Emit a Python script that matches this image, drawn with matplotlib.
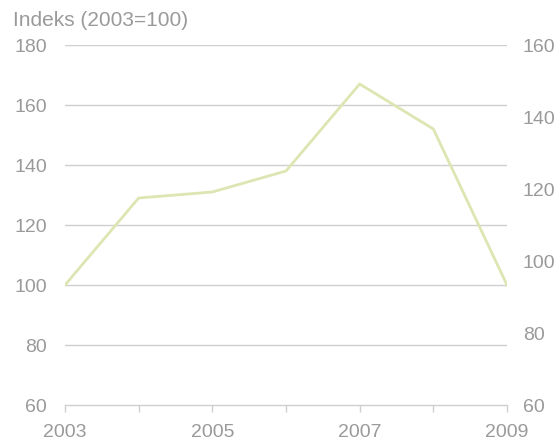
import matplotlib.pyplot as plt

years = [2003, 2004, 2005, 2006, 2007, 2008, 2009]
index_values = [100, 129, 131, 138, 167, 152, 100]
left_ticks = [60, 80, 100, 120, 140, 160, 180]
right_ticks = [60, 80, 100, 120, 140, 160]
year_labels = ['2003', '', '2005', '', '2007', '', '2009']

plt.rcParams['font.family'] = ['Liberation Sans', 'DejaVu Sans']
txt = '#9a9a9a'
grid = '#cfcfcf'
fs = 14

fig = plt.figure(figsize=(5.6, 4.43), dpi=100)
ax = fig.add_axes([65 / 560, 38 / 443, 442 / 560, 360 / 443])

ax.plot(years, index_values, color='#dde6b2', lw=2, zorder=3)

ax.set_xlim(2003, 2009)
ax.set_ylim(60, 180)
ax.set_yticks(left_ticks)
for v in left_ticks[1:]:
    ax.axhline(v, color=grid, lw=1.0, zorder=1)
ax.set_xticks(years)
ax.set_xticklabels(year_labels)

for s in ['top', 'left', 'right']:
    ax.spines[s].set_visible(False)
ax.spines['bottom'].set_color(grid)
ax.spines['bottom'].set_linewidth(1.0)
ax.tick_params(axis='x', colors=grid, length=5, width=1.0, labelcolor=txt,
               labelsize=fs, pad=9)
ax.tick_params(axis='y', length=0, labelcolor=txt, labelsize=fs, pad=13)

ax2 = ax.twinx()
ax2.set_ylim(60, 160)
ax2.set_yticks(right_ticks)
for s in ['top', 'left', 'right', 'bottom']:
    ax2.spines[s].set_visible(False)
ax2.tick_params(axis='y', length=0, labelcolor=txt, labelsize=fs, pad=11.5)

fig.text(13 / 560, 1 - 21 / 443, 'Indeks (2003=100)', color=txt, fontsize=15,
         va='center', ha='left')

fig.savefig('out.png', dpi=100)
